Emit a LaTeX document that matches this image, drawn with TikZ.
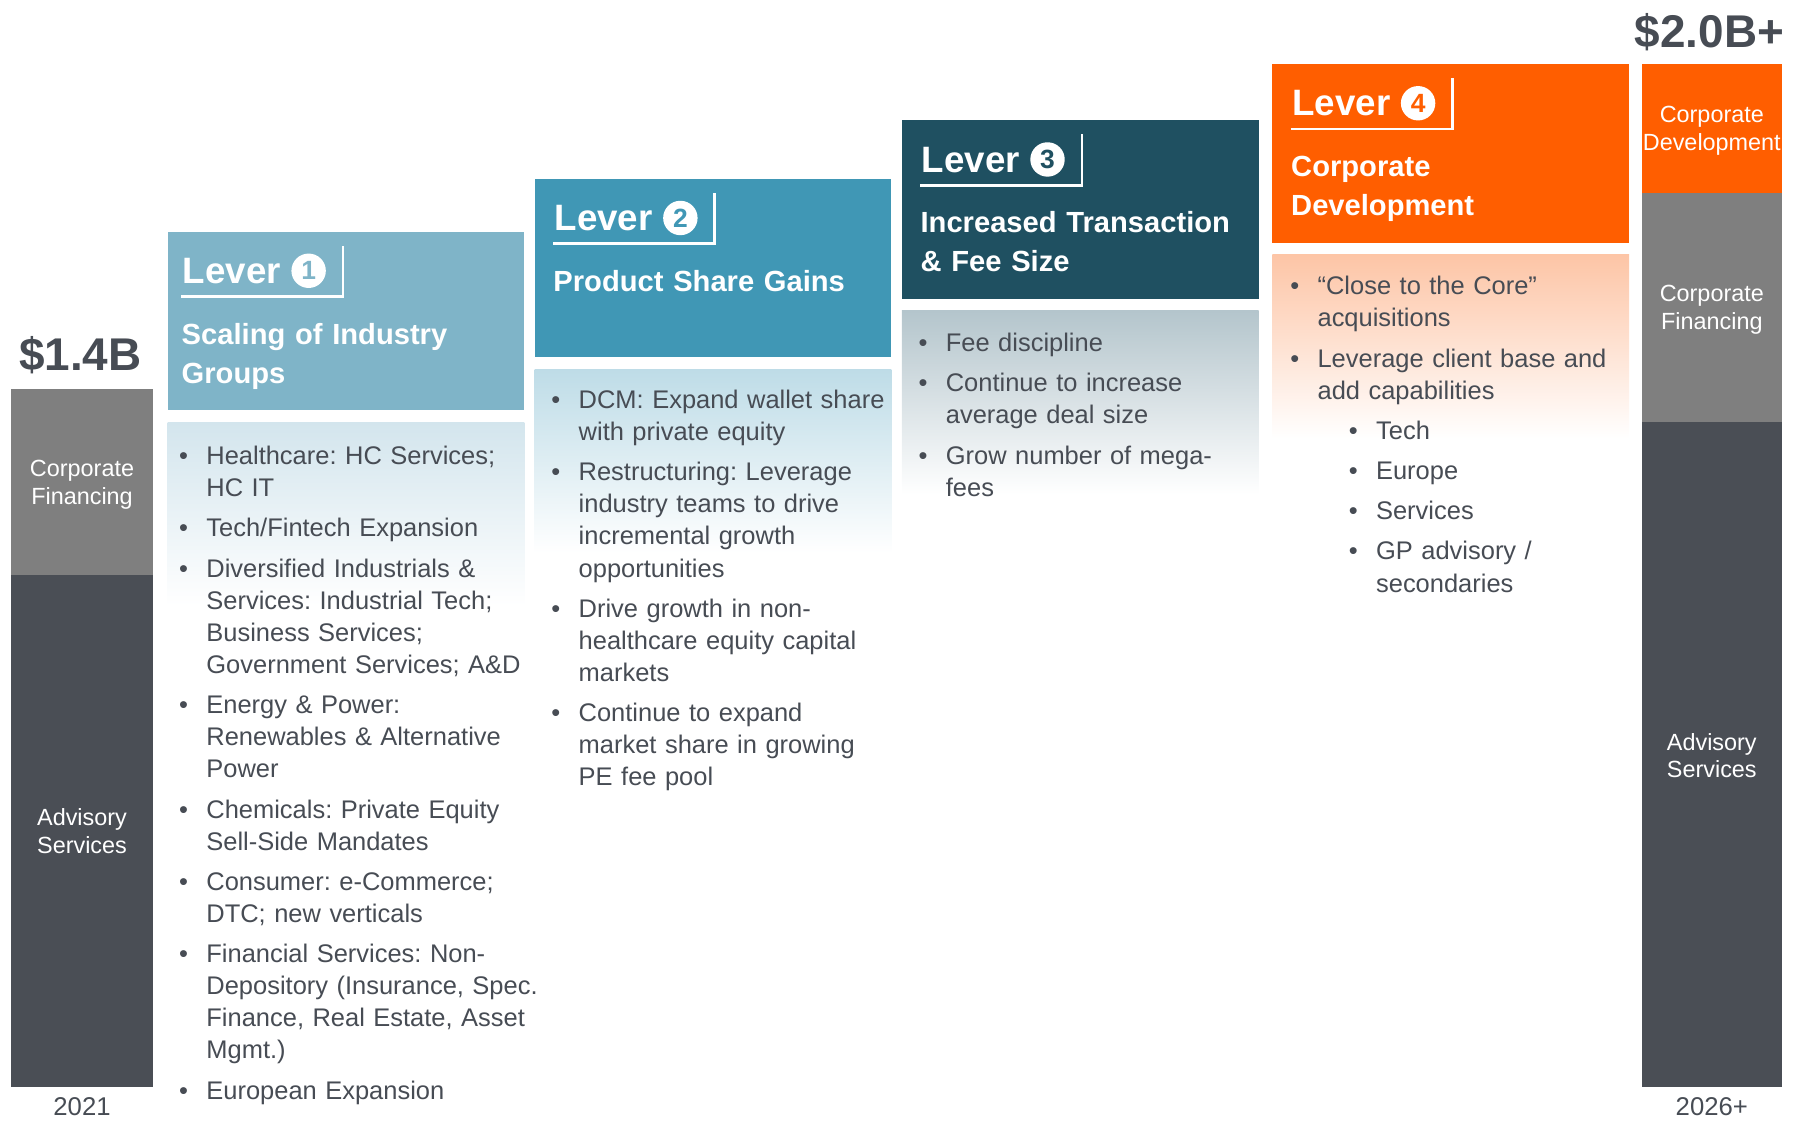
\documentclass[tikz,border=0pt]{standalone}
\usepackage{fontspec}
\setmainfont{Liberation Sans}
\usepackage{xcolor}

\definecolor{lvone}{HTML}{7FB4C8}
\definecolor{lvonebody}{HTML}{D3E5ED}
\definecolor{lvtwo}{HTML}{4097B5}
\definecolor{lvtwobody}{HTML}{BEDCE7}
\definecolor{lvthree}{HTML}{1F5061}
\definecolor{lvthreebody}{HTML}{B4C5CC}
\definecolor{lvfour}{HTML}{FF5E00}
\definecolor{lvfourbody}{HTML}{FDC5A6}
\definecolor{corpfin}{HTML}{7F7F7F}
\definecolor{advisory}{HTML}{4A4E55}
\definecolor{textgray}{HTML}{474C54}

\newcommand{\pnt}{\leavevmode\llap{\textbullet\hspace{8pt}}}
\newcommand{\subpnt}{\leftskip=25.5pt\pnt}

\begin{document}
\frenchspacing
\begin{tikzpicture}[x=0.5pt,y=-0.5pt,
  barlabel/.style={text=white, align=center, inner sep=0pt, font=\fontsize{10.2pt}{12pt}\selectfont},
  total/.style={text=textgray, anchor=base, inner sep=0pt, font=\bfseries\fontsize{20pt}{22pt}\selectfont},
  yearlabel/.style={text=textgray, anchor=base, inner sep=0pt, font=\fontsize{11.2pt}{13pt}\selectfont},
  lever/.style={text=white, anchor=base west, inner sep=0pt, font=\bfseries\fontsize{16pt}{19pt}\selectfont},
  levernum/.style={circle, fill=white, inner sep=0pt, minimum size=15pt, font=\bfseries\fontsize{11.5pt}{13pt}\selectfont},
  levertitle/.style={text=white, anchor=base west, inner sep=0pt, text width=150pt, align=left, font=\bfseries\fontsize{12.7pt}{17pt}\selectfont},
  points/.style={text=textgray, anchor=base west, inner sep=0pt, text width=175pt, align=left,
    font=\fontsize{11.1pt}{14pt}\selectfont, execute at begin node={\setlength{\parskip}{3.5pt}}}
]
\useasboundingbox (0,0) rectangle (1568,977);

% 2021 bar
\fill[corpfin] (10,339) rectangle (133,501);
\fill[advisory] (10,501) rectangle (133,947);
\node[barlabel] (cf21) at (71.5,422.5) {Corporate\\Financing};
\node[barlabel] (as21) at (71.5,724.5) {Advisory\\Services};
\node[total] (tot21) at (70,323) {\$1.4B};
\node[yearlabel] (yr21) at (71.5,972) {2021};

% 2026+ bar
\fill[lvfour] (1431,56) rectangle (1553,168);
\fill[corpfin] (1431,168) rectangle (1553,368);
\fill[advisory] (1431,368) rectangle (1553,947);
\node[barlabel] (cd26) at (1492,114) {Corporate\\Development};
\node[barlabel] (cf26) at (1492,270) {Corporate\\Financing};
\node[barlabel] (as26) at (1492,658.5) {Advisory\\Services};
\node[total] (tot26) at (1490,41) {\$2.0B+};
\node[yearlabel] (yr26) at (1492,972) {2026+};

% lever headers
\foreach \n/\x/\y/\d/\c/\b/\t in {
  1/146/202/14/lvone/lvonebody/{Scaling of Industry\\Groups},
  2/466/156/18/lvtwo/lvtwobody/{Product Share Gains},
  3/786/105/18/lvthree/lvthreebody/{Increased Transaction\\\& Fee Size},
  4/1109/56/18/lvfour/lvfourbody/{Corporate\\Development}}
{
  \fill[\c] (\x,\y) rectangle ++(311,155.5);
  \fill[top color=\b, bottom color=white] (\x,\y+166) rectangle ++(311,160);
  \node[lever] (lever\n) at (\x+\d-1,\y+45) {Lever};
  \node[levernum, text=\c] (num\n) at (\x+\d+109,\y+34) {\n};
  \draw[white, line width=1.2pt] (\x+\d-2,\y+56.5) -- (\x+\d+139,\y+56.5) -- (\x+\d+139,\y+12);
  \node[levertitle] (title\n) at (\x+\d-2,\y+98) {\t};
}

% lever points
\node[points] (pts1) at (179.5,405) {\pnt Healthcare: HC Services;\\HC IT\par
  \pnt Tech/Fintech Expansion\par
  \pnt Diversified Industrials \&\\Services: Industrial Tech;\\Business Services;\\Government Services; A\&D\par
  \pnt Energy \& Power:\\Renewables \& Alternative\\Power\par
  \pnt Chemicals: Private Equity\\Sell-Side Mandates\par
  \pnt Consumer: e-Commerce;\\DTC; new verticals\par
  \pnt Financial Services: Non-\\Depository (Insurance, Spec.\\Finance, Real Estate, Asset\\Mgmt.)\par
  \pnt European Expansion\par};
\node[points] (pts2) at (504,356) {\pnt DCM: Expand wallet share\\with private equity\par
  \pnt Restructuring: Leverage\\industry teams to drive\\incremental growth\\opportunities\par
  \pnt Drive growth in non-\\healthcare equity capital\\markets\par
  \pnt Continue to expand\\market share in growing\\PE fee pool\par};
\node[points] (pts3) at (824,306.5) {\pnt Fee discipline\par
  \pnt Continue to increase\\average deal size\par
  \pnt Grow number of mega-\\fees\par};
\node[points] (pts4) at (1148,257) {\pnt “Close to the Core”\\acquisitions\par
  \pnt Leverage client base and\\add capabilities\par
  \subpnt Tech\par
  \subpnt Europe\par
  \subpnt Services\par
  \subpnt GP advisory /\\secondaries\par};
\end{tikzpicture}
\end{document}
